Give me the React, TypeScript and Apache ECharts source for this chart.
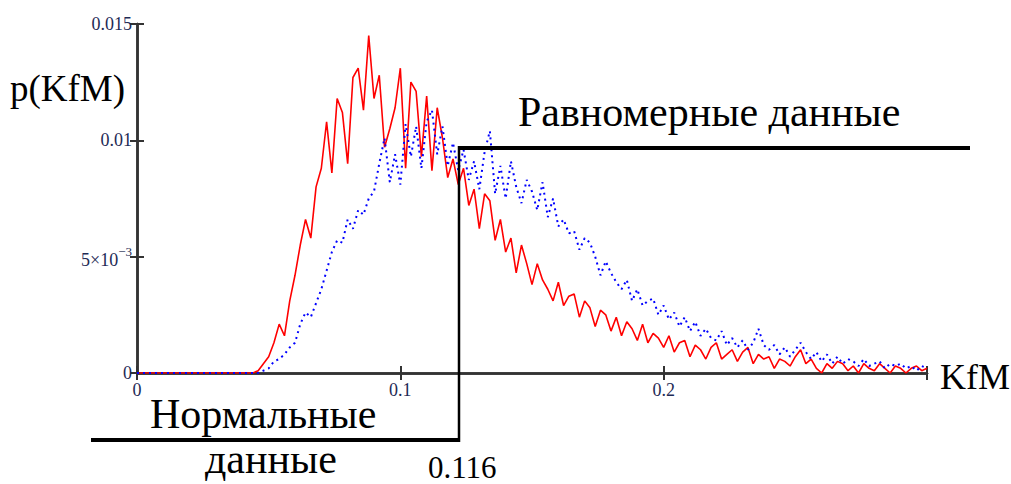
import React, { useEffect, useRef } from "react";
import * as echarts from "echarts";

// KfM grid: step between samples
const kfmStep = 0.002;

// Normal data (red, solid)
const normalP = [
  0, 0, 0, 0, 0, 0, 0, 0, 0, 0,
  0, 0, 0, 0, 0, 0, 0, 0, 0, 0,
  0, 0, 0, 0.0001, 0.0004, 0.0007, 0.0013, 0.0021, 0.0016, 0.0031,
  0.0042, 0.0055, 0.0066, 0.0058, 0.008, 0.0088, 0.0108, 0.0086, 0.0118, 0.0112,
  0.009, 0.0127, 0.0131, 0.0113, 0.0145, 0.0118, 0.0128, 0.0097, 0.0105, 0.0114,
  0.0131, 0.0088, 0.0125, 0.0121, 0.0093, 0.0119, 0.0087, 0.0114, 0.0101, 0.0084,
  0.0092, 0.0081, 0.0088, 0.0072, 0.0079, 0.0062, 0.0077, 0.0074, 0.0057, 0.0066,
  0.0052, 0.0058, 0.0043, 0.0055, 0.0047, 0.0038, 0.0047, 0.004, 0.0036, 0.0031,
  0.0039, 0.0029, 0.0033, 0.0034, 0.0024, 0.0031, 0.0028, 0.002, 0.0027, 0.0025,
  0.0018, 0.0024, 0.0016, 0.0022, 0.0019, 0.0014, 0.0021, 0.0013, 0.0017, 0.0015,
  0.0011, 0.0016, 0.0009, 0.0013, 0.0014, 0.0007, 0.0012, 0.001, 0.0006, 0.0011,
  0.0013, 0.0006, 0.0008, 0.001, 0.0005, 0.0009, 0.0011, 0.0004, 0.0008, 0.0006,
  0.0007, 0.0002, 0.0006, 0.0005, 0.0003, 0.0007, 0.001, 0.0004, 0.0006, 0.0002,
  0, 0.0004, 0.0002, 0.0005, 0.0004, 0.0001, 0.0003, 0, 0.0004, 0.0002,
  0.0001, 0.0004, 0.0002, 0, 0.0003, 0.0002, 0, 0.0002, 0.0003, 0.0001,
  0.0002,
];

// Uniform data (blue, dotted)
const uniformP = [
  0, 0, 0, 0, 0, 0, 0, 0, 0, 0,
  0, 0, 0, 0, 0, 0, 0, 0, 0, 0,
  0, 0, 0, 0, 0.0001, 0.0002, 0.0005, 0.0006, 0.0008, 0.0011,
  0.0013, 0.0021, 0.0026, 0.0024, 0.003, 0.0036, 0.0044, 0.0052, 0.0057, 0.0056,
  0.0066, 0.0062, 0.007, 0.0068, 0.0075, 0.0078, 0.009, 0.0101, 0.0082, 0.0094,
  0.0081, 0.0107, 0.0093, 0.0106, 0.0088, 0.0108, 0.0113, 0.0094, 0.0106, 0.0089,
  0.0099, 0.0087, 0.0096, 0.0083, 0.0091, 0.0079, 0.0095, 0.0104, 0.0077, 0.0089,
  0.0075, 0.0091, 0.008, 0.0073, 0.0083, 0.0078, 0.007, 0.0082, 0.0067, 0.0075,
  0.0063, 0.0066, 0.006, 0.0061, 0.0053, 0.0058, 0.0056, 0.005, 0.0042, 0.0048,
  0.0043, 0.0039, 0.0036, 0.004, 0.0031, 0.0036, 0.0029, 0.0031, 0.0032, 0.0025,
  0.0029, 0.0023, 0.0026, 0.002, 0.0024, 0.0018, 0.0022, 0.0016, 0.0019, 0.0015,
  0.0014, 0.0018, 0.0012, 0.0015, 0.0011, 0.0014, 0.001, 0.0013, 0.0019, 0.0012,
  0.001, 0.0012, 0.0008, 0.0011, 0.0007, 0.001, 0.0013, 0.0009, 0.0006, 0.0009,
  0.0005, 0.0008, 0.0004, 0.0007, 0.0004, 0.0006, 0.0005, 0.0003, 0.0006, 0.0003,
  0.0004, 0.0005, 0.0002, 0.0004, 0.0003, 0.0004, 0.0002, 0.0003, 0.0001, 0.0003,
  0.0002,
];

const xTickLabels: Record<string, string> = { "0": "0", "0.1": "0.1", "0.2": "0.2" };
const thresholdLabel = "0.116";

const serif = "'Liberation Serif', 'Times New Roman', serif";
const tickColor = "#1e2a55";

export default function App() {
  const ref = useRef<HTMLDivElement>(null);
  useEffect(() => {
    document.body.style.margin = "0";
    if (!ref.current) return;
    const chart = echarts.init(ref.current, undefined, { renderer: "svg" });
    const pair = (arr: number[]) => arr.map((v, i) => [+(i * kfmStep).toFixed(4), v]);
    const axisLine = { show: true, lineStyle: { color: "#333", width: 2.5 } };
    const tick = { show: true, inside: true, length: 7, lineStyle: { color: "#333", width: 2 } };
    chart.setOption({
      animation: false,
      backgroundColor: "#fff",
      grid: { left: 137, top: 24, width: 790, height: 349, show: false },
      xAxis: [
        {
          type: "value", min: 0, max: 0.3, interval: 0.1,
          axisLine, axisTick: tick, splitLine: { show: false },
          axisLabel: {
            color: tickColor, fontFamily: serif, fontSize: 18, margin: 8,
            formatter: (v: number) => xTickLabels[String(+v.toFixed(2))] ?? "",
          },
        },
        {
          type: "value", position: "top", min: 0, max: 0.3, interval: 0.1,
          axisLine, axisTick: tick, axisLabel: { show: false }, splitLine: { show: false },
        },
      ],
      yAxis: [
        {
          type: "value", min: 0, max: 0.015, interval: 0.005,
          axisLine, axisTick: tick, splitLine: { show: false },
          axisLabel: {
            color: tickColor, fontFamily: serif, fontSize: 18, margin: 5,
            formatter: (v: number) => {
              const r = +v.toFixed(4);
              if (r === 0) return "0";
              if (r === 0.005) return "{b|5×10}{s|−3}";
              if (r === 0.01) return "0.01";
              return "0.015";
            },
            rich: {
              b: { fontSize: 18, fontFamily: serif, color: tickColor, verticalAlign: "bottom", lineHeight: 24 },
              s: { fontSize: 13, fontFamily: serif, color: tickColor, verticalAlign: "top", lineHeight: 24 },
            },
          },
        },
        {
          type: "value", position: "right", min: 0, max: 0.015, interval: 0.005,
          axisLine, axisTick: tick, axisLabel: { show: false }, splitLine: { show: false },
        },
      ],
      series: [
        {
          name: "Нормальные данные", type: "line", data: pair(normalP), showSymbol: false,
          lineStyle: { color: "#ff0000", width: 1.6 }, z: 3,
        },
        {
          name: "Равномерные данные", type: "line", data: pair(uniformP), showSymbol: false,
          lineStyle: { color: "#0000ff", width: 2, type: [2, 4] }, z: 4,
        },
      ],
      graphic: [
        { type: "text", x: 10, y: 88, style: { text: "p(KfM)", font: `37px ${serif}`, fill: "#000", verticalAlign: "middle" } },
        { type: "text", x: 940, y: 377, style: { text: "KfM", font: `36px ${serif}`, fill: "#000", verticalAlign: "middle" } },
        { type: "text", x: 518, y: 112, style: { text: "Равномерные данные", font: `42px ${serif}`, fill: "#000", verticalAlign: "middle" } },
        { type: "text", x: 150, y: 414, style: { text: "Нормальные", font: `42px ${serif}`, fill: "#000", verticalAlign: "middle" } },
        { type: "text", x: 205, y: 459, style: { text: "данные", font: `42px ${serif}`, fill: "#000", verticalAlign: "middle" } },
        { type: "text", x: 428, y: 467, style: { text: thresholdLabel, font: `31px ${serif}`, fill: "#000", verticalAlign: "middle" } },
        { type: "line", shape: { x1: 459, y1: 148, x2: 970, y2: 148 }, style: { stroke: "#000", lineWidth: 4 }, z: 10 },
        { type: "line", shape: { x1: 459, y1: 146, x2: 459, y2: 442 }, style: { stroke: "#000", lineWidth: 2.5 }, z: 10 },
        { type: "line", shape: { x1: 91, y1: 440, x2: 460, y2: 440 }, style: { stroke: "#000", lineWidth: 4 }, z: 10 },
      ],
    });
    return () => chart.dispose();
  }, []);
  return <div ref={ref} style={{ width: 1011, height: 484 }} />;
}
